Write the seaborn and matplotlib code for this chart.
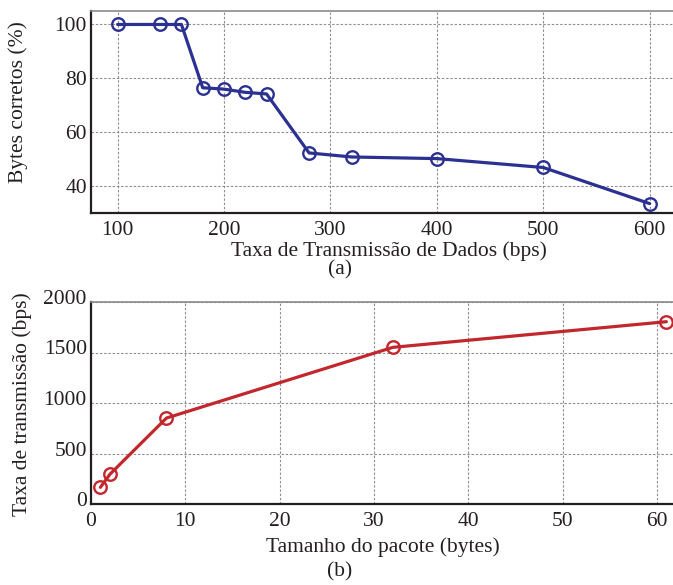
import matplotlib
matplotlib.use("Agg")
import matplotlib.pyplot as plt
import matplotlib.transforms as mtransforms
import seaborn as sns
import pandas as pd

# Data (a)
taxa_bps = [100, 140, 160, 180, 200, 220, 240, 280, 320, 400, 500, 600]
bytes_corretos = [100, 100, 100, 76.5, 76.0, 74.8, 74.2, 52.3, 50.8, 50.2, 46.9, 33.5]
# Data (b)
tamanho_pacote = [1, 2, 8, 32, 61]
taxa_transmissao = [165, 294, 851, 1551, 1805]

top_xticks = [100, 200, 300, 400, 500, 600]
top_yticks = [40, 60, 80, 100]
bot_xticks = [0, 10, 20, 30, 40, 50, 60]
bot_yticks = [0, 500, 1000, 1500, 2000]

sns.set_theme(style="white")
plt.rcParams['font.family'] = ['Liberation Serif', 'DejaVu Serif']
plt.rcParams['mathtext.fontset'] = 'stix'

W, H = 673, 585
fig = plt.figure(figsize=(W / 100, H / 100), dpi=100)

def px_axes(left, top, right, bottom):
    return fig.add_axes([left / W, 1 - bottom / H, (right - left) / W, (bottom - top) / H])

ax1 = px_axes(91, 11, 673, 213)
ax2 = px_axes(91, 302, 673, 504)

blue = "#2b3190"
red = "#c1272d"
txt = "#231f20"
FS = 15.5

df1 = pd.DataFrame({"x": taxa_bps, "y": bytes_corretos})
df2 = pd.DataFrame({"x": tamanho_pacote, "y": taxa_transmissao})

common = dict(marker="o", markersize=9, markerfacecolor="none", markeredgewidth=1.7,
              linewidth=2.3, legend=False)
sns.lineplot(data=df1, x="x", y="y", ax=ax1, color=blue, markeredgecolor=blue, **common)
sns.lineplot(data=df2, x="x", y="y", ax=ax2, color=red, markeredgecolor=red, **common)

ax1.set_xlim(75, 622)
ax1.set_ylim(30, 105)
ax2.set_xlim(0, 61.7)
ax2.set_ylim(0, 2000)

ax1.set_xticks(top_xticks)
ax1.set_yticks(top_yticks)
ax2.set_xticks(bot_xticks)
ax2.set_yticks(bot_yticks)

for ax in (ax1, ax2):
    ax.grid(True, color="#8f8f8f", linestyle=(0, (2.2, 1.6)), linewidth=0.8)
    ax.set_axisbelow(True)
    ax.tick_params(axis="both", length=0, labelsize=FS, colors=txt, pad=6)
    ax.tick_params(axis="y", pad=3)
    for s in ("left", "bottom"):
        ax.spines[s].set_color(txt)
        ax.spines[s].set_linewidth(1.6)
    ax.spines["top"].set_color("#8a8a8a")
    ax.spines["top"].set_linewidth(1.2)
    ax.spines["right"].set_visible(False)

# shift bottom y tick labels up slightly as in reference
off = mtransforms.ScaledTranslation(0, 5 / 100, fig.dpi_scale_trans)
for lab in ax2.get_yticklabels():
    lab.set_transform(lab.get_transform() + off)

ax1.set_xlabel("Taxa de Transmissão de Dados (bps)", fontsize=FS, color=txt)
ax1.set_ylabel("Bytes corretos (%)", fontsize=FS, color=txt)
ax2.set_xlabel("Tamanho do pacote (bytes)", fontsize=FS, color=txt)
ax2.set_ylabel("Taxa de transmissão (bps)", fontsize=FS, color=txt)

ax1.xaxis.set_label_coords(389 / W, 1 - 241 / H, transform=fig.transFigure)
ax1.yaxis.set_label_coords(28 / W, 1 - 102 / H, transform=fig.transFigure)
ax2.xaxis.set_label_coords(383 / W, 1 - 537 / H, transform=fig.transFigure)
ax2.yaxis.set_label_coords(32 / W, 1 - 404 / H, transform=fig.transFigure)

fig.text(340 / W, 1 - 270 / H, "(a)", ha="center", va="center", fontsize=FS, color=txt)
fig.text(340 / W, 1 - 572 / H, "(b)", ha="center", va="center", fontsize=FS, color=txt)

fig.savefig("out.png", dpi=100)
